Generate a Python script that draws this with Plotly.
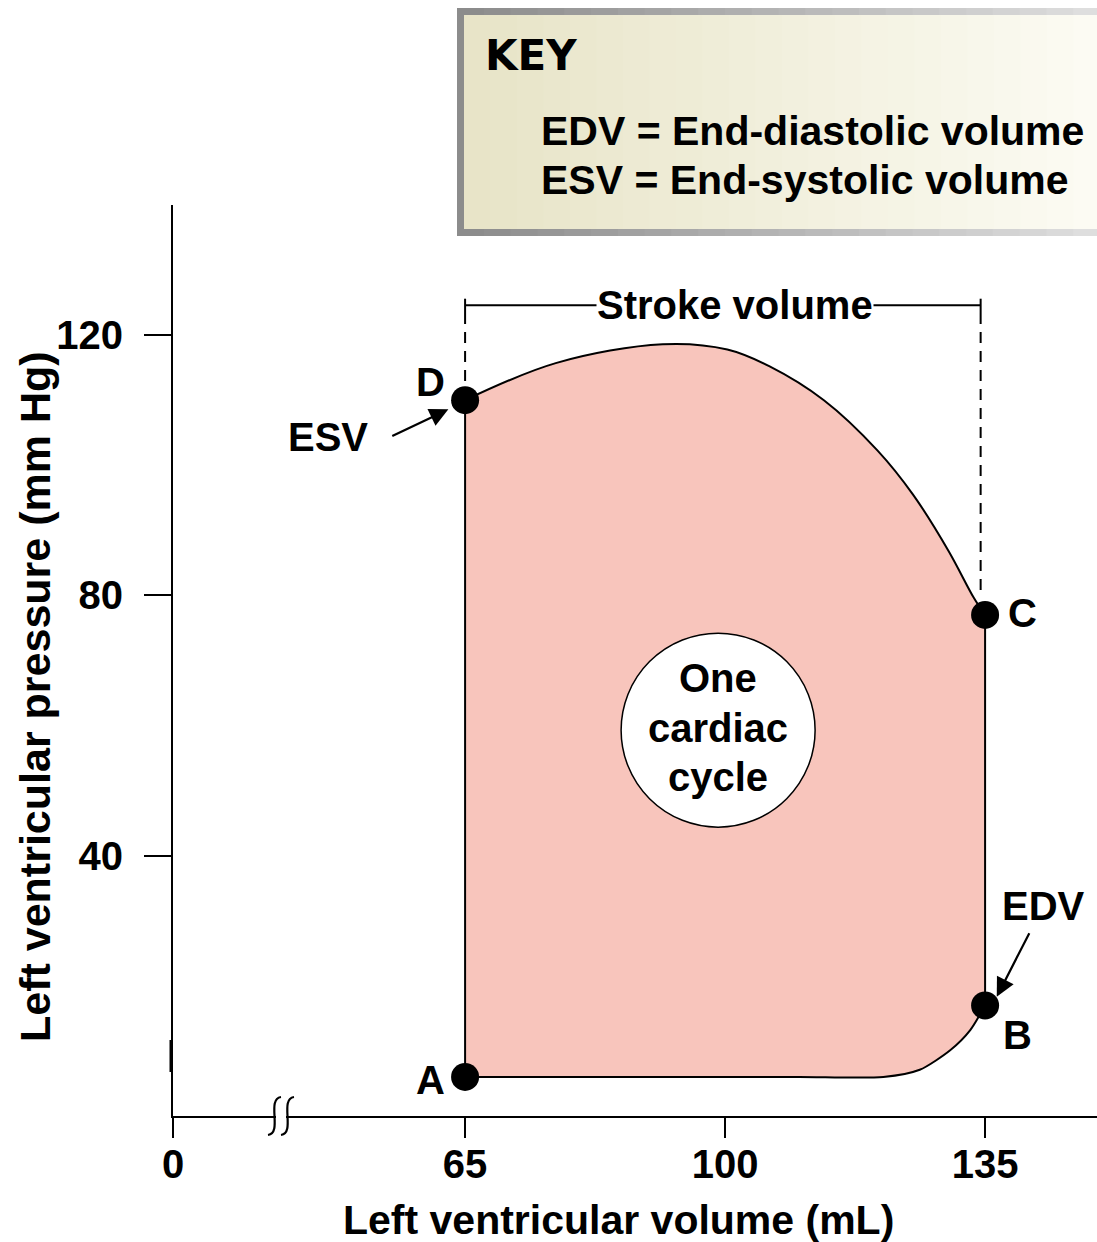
import numpy as np
import plotly.graph_objects as go

# ---------------------------------------------------------------
# Left-ventricular pressure-volume loop for one cardiac cycle
# ---------------------------------------------------------------

# Corner points of the loop
point_labels = ["A", "B", "C", "D"]
point_volume = [65, 135, 135, 65]        # mL
point_pressure = [6, 17, 77, 110]        # mm Hg

# Ventricular filling, A -> B (bottom edge)
filling_volume = [65, 90, 110, 121.3, 126.2, 130.3, 133.0, 135]
filling_pressure = [6, 6, 6, 6.0, 7.1, 10.1, 13.2, 17]

# Ejection, D -> C (top edge, listed left to right)
ejection_volume = [65, 77.2, 91.6, 100.3, 106.0, 113.3, 120.5, 125.3, 130.1, 133.5, 135]
ejection_pressure = [110, 115.7, 118.6, 117.8, 115.2, 110.0, 102.3, 95.5, 86.8, 79.6, 77]

# Axis ticks (volume axis is broken between 0 and 65)
volume_zero_pos = 25.7
volume_tick_vals = [volume_zero_pos, 65, 100, 135]
volume_tick_text = ["0", "65", "100", "135"]
pressure_tick_vals = [40, 80, 120]
pressure_tick_text = ["40", "80", "120"]

# Stroke-volume bracket
stroke_left, stroke_right = 65, 134.4
stroke_level = 124.6

# ---------------------------------------------------------------
FONT = "Liberation Sans, Arial, Helvetica, sans-serif"
W, H = 1097, 1242
ML, MR, MT, MB = 173, 0, 205, 126
PW, PH = W - ML - MR, H - MT - MB
FILL = "#F8C5BC"


def px(xp):
    return (xp - ML) / PW


def py(yp):
    return (H - MB - yp) / PH


def txt(text, x, y, size=40, xref="x", yref="y", family=FONT, **kw):
    kw.setdefault("xanchor", "center")
    kw.setdefault("yanchor", "middle")
    return dict(text=text, x=x, y=y, xref=xref, yref=yref, showarrow=False,
                font=dict(family=family, size=size, color="black", weight="bold"), **kw)


fig = go.Figure()

# bottom edge (filling)
fig.add_trace(go.Scatter(
    x=filling_volume, y=filling_pressure, mode="lines",
    line=dict(color="black", width=2, shape="spline", smoothing=0.7),
    hoverinfo="skip", showlegend=False))

# top edge (ejection), filled down to the filling curve
fig.add_trace(go.Scatter(
    x=ejection_volume, y=ejection_pressure, mode="lines", fill="tonexty",
    fillcolor=FILL,
    line=dict(color="black", width=2, shape="spline", smoothing=1.0),
    hoverinfo="skip", showlegend=False))

# isovolumic edges D-A and B-C
fig.add_trace(go.Scatter(
    x=[point_volume[3], point_volume[0]], y=[point_pressure[3], point_pressure[0]],
    mode="lines", line=dict(color="black", width=2), hoverinfo="skip", showlegend=False))
fig.add_trace(go.Scatter(
    x=[point_volume[1], point_volume[2]], y=[point_pressure[1], point_pressure[2]],
    mode="lines", line=dict(color="black", width=2), hoverinfo="skip", showlegend=False))

# stroke-volume guides
dash = dict(color="black", width=2, dash="11px,8px")
fig.add_trace(go.Scatter(x=[stroke_left, stroke_left], y=[stroke_level - 1.2, point_pressure[3]],
                         mode="lines", line=dash, hoverinfo="skip", showlegend=False))
fig.add_trace(go.Scatter(x=[stroke_right, stroke_right], y=[stroke_level - 1.2, 80.5],
                         mode="lines", line=dash, hoverinfo="skip", showlegend=False))
fig.add_trace(go.Scatter(x=[stroke_left, stroke_right], y=[stroke_level, stroke_level],
                         mode="lines", line=dict(color="black", width=2),
                         hoverinfo="skip", showlegend=False))
for sx in (stroke_left, stroke_right):
    fig.add_trace(go.Scatter(x=[sx, sx], y=[stroke_level + 1.0, stroke_level - 1.2],
                             mode="lines", line=dict(color="black", width=2),
                             hoverinfo="skip", showlegend=False))

# corner markers
fig.add_trace(go.Scatter(
    x=point_volume, y=point_pressure, mode="markers",
    marker=dict(color="black", size=28, line=dict(width=0)),
    text=point_labels, hoverinfo="text", showlegend=False))

shapes = []

# KEY box: grey frame with a soft left-to-right gradient
n = 24
frame = np.linspace([140, 140, 140], [222, 222, 222], n)
inner = np.linspace([232, 228, 200], [252, 251, 243], n)
x_left, x_right = 457, 1100
for i in range(n):
    a = x_left + (x_right - x_left) * i / n
    b = x_left + (x_right - x_left) * (i + 1) / n + 1
    c = "rgb(%d,%d,%d)" % tuple(frame[i])
    shapes.append(dict(type="rect", xref="paper", yref="paper", layer="above",
                       x0=px(a), x1=px(b), y0=py(236), y1=py(8),
                       fillcolor=c, line=dict(width=0)))
x_left_in = 464
for i in range(n):
    a = x_left_in + (x_right - x_left_in) * i / n
    b = x_left_in + (x_right - x_left_in) * (i + 1) / n + 1
    c = "rgb(%d,%d,%d)" % tuple(inner[i])
    shapes.append(dict(type="rect", xref="paper", yref="paper", layer="above",
                       x0=px(a), x1=px(b), y0=py(229), y1=py(15),
                       fillcolor=c, line=dict(width=0)))

# "One cardiac cycle" disc
shapes.append(dict(type="circle", xref="x", yref="y", layer="above",
                   xsizemode="pixel", ysizemode="pixel",
                   xanchor=99.06, yanchor=59.3, x0=-97, x1=97, y0=-97, y1=97,
                   fillcolor="white", line=dict(color="black", width=1.5)))

# axis break on the volume axis
shapes.append(dict(type="rect", xref="paper", yref="paper", layer="above",
                   x0=px(276), x1=px(286), y0=py(1120), y1=py(1112),
                   fillcolor="white", line=dict(width=0)))
for top_x, bot_x in ((281, 268), (294, 281)):
    path = "M %f,%f C %f,%f %f,%f %f,%f" % (
        px(top_x), py(1097),
        px(top_x - 15), py(1099),
        px(bot_x + 15), py(1133),
        px(bot_x), py(1135))
    shapes.append(dict(type="path", xref="paper", yref="paper", layer="above",
                       path=path, line=dict(color="black", width=2.2)))

# short thickened stretch at the foot of the pressure axis
shapes.append(dict(type="line", xref="paper", yref="paper", layer="above",
                   x0=px(171), x1=px(171), y0=py(1072), y1=py(1040),
                   line=dict(color="black", width=3)))

annotations = [
    # key
    txt("KEY", px(483), py(55), size=42, xref="paper", yref="paper",
        family="DejaVu Sans, Liberation Sans, sans-serif", xanchor="left"),
    txt("EDV = End-diastolic volume", px(539), py(131), size=41, xref="paper", yref="paper",
        xanchor="left"),
    txt("ESV = End-systolic volume", px(539), py(180), size=41, xref="paper", yref="paper",
        xanchor="left"),
    # stroke volume
    txt("Stroke volume", 101.35, stroke_level, bgcolor="white", borderpad=0),
    # point labels
    txt("D", 60.3, 112.8),
    txt("ESV", 46.56, 104.3),
    txt("C", 140.1, 77.3),
    txt("EDV", 142.8, 32.3),
    txt("B", 139.3, 12.4),
    txt("A", 60.3, 5.5),
    # disc text
    txt("One", 99.06, 67.3),
    txt("cardiac", 99.06, 59.6),
    txt("cycle", 99.06, 52.1),
    # axis titles
    txt("Left ventricular volume (mL)", px(618), py(1220), size=41, xref="paper", yref="paper"),
    txt("Left ventricular pressure (mm Hg)", px(35), py(697), size=43, xref="paper", yref="paper",
        textangle=-90),
    # arrows
    dict(x=62.75, y=108.6, xref="x", yref="y", text="", showarrow=True,
         ax=-57.6, ay=27.4, arrowhead=2, arrowsize=1.7, arrowwidth=2.2,
         arrowcolor="black", standoff=0),
    dict(x=136.57, y=18.33, xref="x", yref="y", text="", showarrow=True,
         ax=33.3, ay=-65, arrowhead=2, arrowsize=1.7, arrowwidth=2.2,
         arrowcolor="black", standoff=0),
]

tickfont = dict(family=FONT, size=40, color="black", weight="bold")
fig.update_layout(
    width=W, height=H,
    margin=dict(l=ML, r=MR, t=MT, b=MB, pad=0),
    paper_bgcolor="white", plot_bgcolor="white",
    showlegend=False,
    xaxis=dict(range=[25.68, 25.68 + PW / 7.4286], showgrid=False, zeroline=False,
               showline=True, linecolor="black", linewidth=2,
               ticks="outside", ticklen=20, tickwidth=2, tickcolor="black",
               tickmode="array", tickvals=volume_tick_vals, ticktext=volume_tick_text,
               tickfont=tickfont, ticklabelstandoff=-8, fixedrange=True),
    yaxis=dict(range=[0, 140], showgrid=False, zeroline=False,
               showline=True, linecolor="black", linewidth=2,
               ticks="outside", ticklen=27, tickwidth=2, tickcolor="black",
               tickmode="array", tickvals=pressure_tick_vals, ticktext=pressure_tick_text,
               tickfont=tickfont, ticklabelstandoff=13, fixedrange=True),
    shapes=shapes,
    annotations=annotations,
)

fig.write_html("out.html")
